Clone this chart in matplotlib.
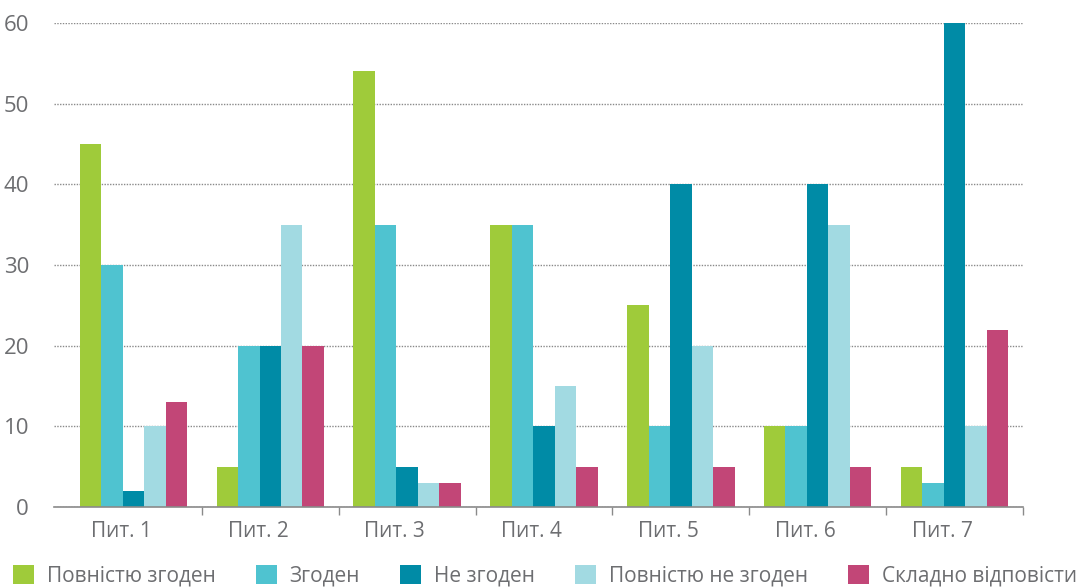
import matplotlib.pyplot as plt
import numpy as np
from matplotlib.ticker import FixedLocator

plt.rcParams['font.family'] = ['Open Sans', 'DejaVu Sans']

categories = ["Пит. 1", "Пит. 2", "Пит. 3", "Пит. 4", "Пит. 5", "Пит. 6", "Пит. 7"]
series_names = ["Повністю згоден", "Згоден", "Не згоден", "Повністю не згоден", "Складно відповісти"]
fully_agree = [45, 5, 54, 35, 25, 10, 5]
agree = [30, 20, 35, 35, 10, 10, 3]
disagree = [2, 20, 5, 10, 40, 40, 60]
fully_disagree = [10, 35, 3, 15, 20, 35, 10]
hard_to_say = [13, 20, 3, 5, 5, 5, 22]
colors = ["#9fcb3a", "#4fc3d0", "#008ba6", "#a2dae2", "#c24677"]

series = [fully_agree, agree, disagree, fully_disagree, hard_to_say]
text_col = "#6d6e71"

fig = plt.figure(figsize=(10.78, 5.88), dpi=100)
ax = fig.add_axes([54 / 1078, 1 - 507 / 588, (1023 - 54) / 1078, (507 - 23) / 588])

x = np.arange(len(categories))
w = 0.157
for i, (vals, name, c) in enumerate(zip(series, series_names, colors)):
    ax.bar(x + (i - 2) * w, vals, w, color=c, label=name, zorder=2)

ax.set_xlim(-0.58, 6.5)
ax.set_ylim(0, 60)
ax.set_yticks([0, 10, 20, 30, 40, 50, 60])
ax.yaxis.grid(True, linestyle=(0, (1, 1)), color="#8a8a8a", linewidth=1, zorder=1)
ax.set_axisbelow(True)

ax.set_xticks(x - 0.09)
ax.set_xticklabels(categories)
ax.xaxis.set_minor_locator(FixedLocator(x + 0.5))
ax.tick_params(axis="x", which="major", length=0, pad=10, labelsize=15, labelcolor=text_col)
ax.tick_params(axis="x", which="minor", length=6, width=1, color="#8a8a8a")
ax.tick_params(axis="y", length=0, pad=18, labelsize=16, labelcolor=text_col)

for s in ["top", "left", "right"]:
    ax.spines[s].set_visible(False)
ax.spines["bottom"].set_color("#8a8a8a")
ax.spines["bottom"].set_linewidth(1.2)

fig.legend(loc="upper left", bbox_to_anchor=(13 / 1078, 1 - 565 / 588), ncol=5,
           frameon=False, fontsize=15, labelcolor=text_col,
           handlelength=1.0, handleheight=1.0, handletextpad=0.63,
           columnspacing=1.92, borderaxespad=0, borderpad=0)

fig.savefig("out.png", dpi=100)
